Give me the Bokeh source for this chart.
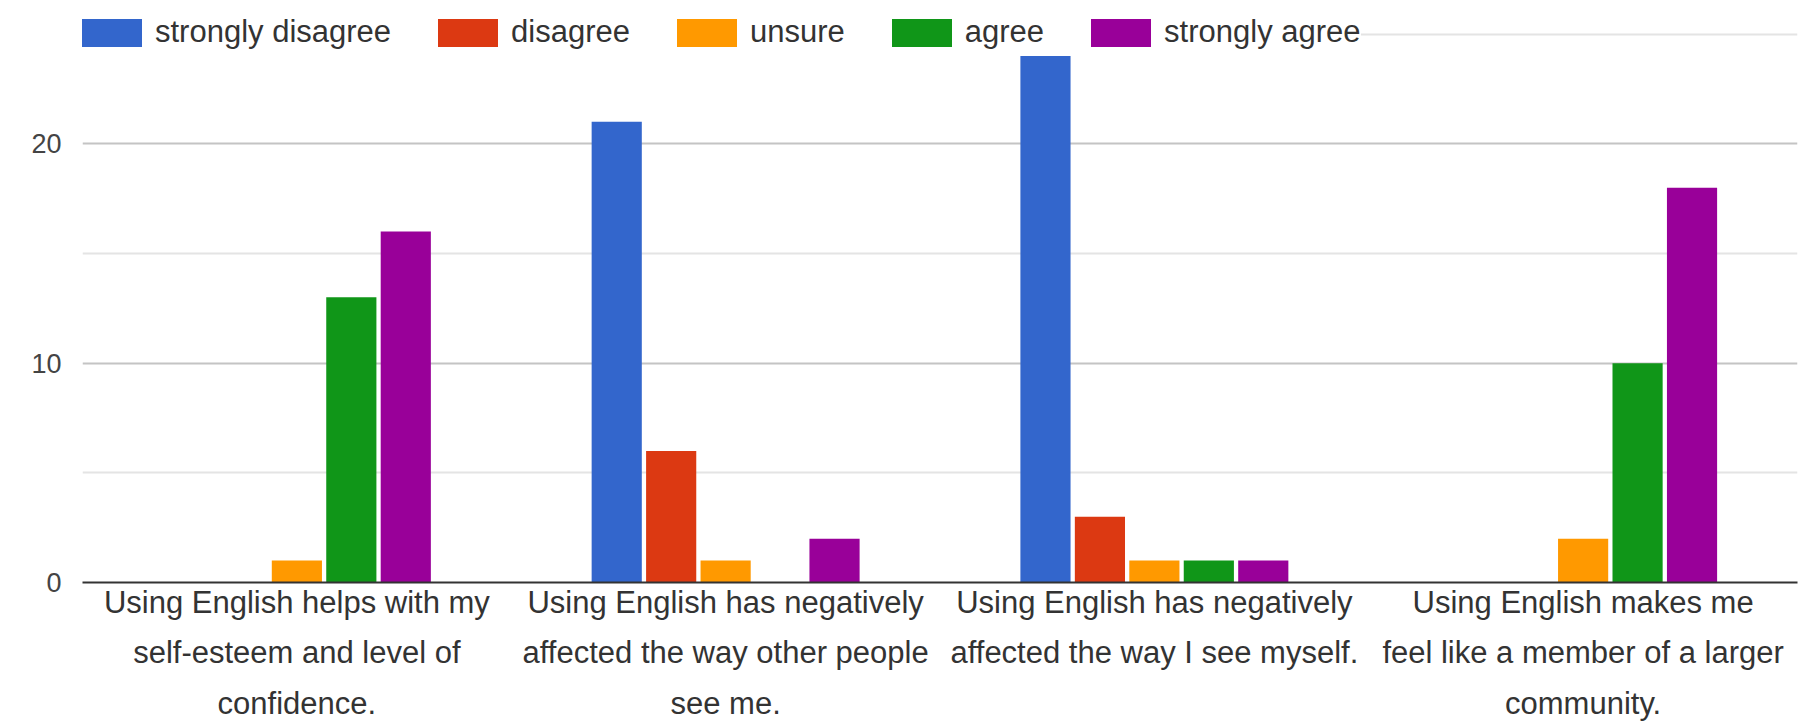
from bokeh.plotting import figure
from bokeh.models import FactorRange, Range1d, FixedTicker, ColumnDataSource
from bokeh.transform import dodge
from bokeh.embed import file_html
from bokeh.resources import INLINE

categories = [
    "Using English helps with my\nself-esteem and level of\nconfidence.",
    "Using English has negatively\naffected the way other people\nsee me.",
    "Using English has negatively\naffected the way I see myself.",
    "Using English makes me\nfeel like a member of a larger\ncommunity.",
]
series_names = ["strongly disagree", "disagree", "unsure", "agree", "strongly agree"]
strongly_disagree = [0, 21, 24, 0]
disagree = [0, 6, 3, 0]
unsure = [1, 1, 1, 2]
agree = [13, 0, 1, 10]
strongly_agree = [16, 2, 1, 18]
y_ticks = [0, 10, 20]
y_minor = [5, 15, 25]
colors = ["#3366cc", "#dc3912", "#ff9900", "#109618", "#990099"]

series_values = [strongly_disagree, disagree, unsure, agree, strongly_agree]
keys = ["s0", "s1", "s2", "s3", "s4"]
data = {"cat": categories}
for k, v in zip(keys, series_values):
    data[k] = v
source = ColumnDataSource(data)

FONT = "Liberation Sans"

p = figure(
    width=1801, height=726,
    x_range=FactorRange(factors=categories, range_padding=0),
    y_range=Range1d(0, 26.53),
    output_backend="svg", toolbar_location=None,
    min_border_left=82, min_border_right=4, min_border_top=0, min_border_bottom=144,
)
p.outline_line_color = None
p.background_fill_color = "white"
p.border_fill_color = "white"

pitch = 0.127
bw = 0.117
for i, (k, name, c) in enumerate(zip(keys, series_names, colors)):
    p.vbar(x=dodge("cat", (i - 2) * pitch, range=p.x_range), top=k, width=bw,
           source=source, fill_color=c, line_color=None, legend_label=name)

# axes
xa = p.xaxis[0]
xa.axis_line_color = "#333333"
xa.axis_line_width = 2
xa.major_tick_line_color = None
xa.minor_tick_line_color = None
xa.major_label_text_font = FONT
xa.major_label_text_font_size = "31px"
xa.major_label_text_color = "#333333"
xa.major_label_standoff = -4
xa.major_label_text_line_height = 1.45

ya = p.yaxis[0]
ya.ticker = FixedTicker(ticks=y_ticks, minor_ticks=y_minor)
ya.axis_line_color = None
ya.major_tick_line_color = None
ya.minor_tick_line_color = None
ya.major_label_text_font = FONT
ya.major_label_text_font_size = "27px"
ya.major_label_text_color = "#444444"
ya.major_label_standoff = 15

p.xgrid.grid_line_color = None
p.ygrid.ticker = FixedTicker(ticks=y_ticks, minor_ticks=y_minor)
p.ygrid.grid_line_color = "#c4c4c4"
p.ygrid.grid_line_width = 2
p.ygrid.minor_grid_line_color = "#e4e4e4"
p.ygrid.minor_grid_line_width = 2

lg = p.legend[0]
lg.orientation = "horizontal"
lg.location = (-8, 532)
lg.padding = 0
lg.margin = 0
lg.spacing = 39
lg.glyph_width = 75
lg.glyph_height = 35
lg.label_standoff = 6
lg.label_text_font = FONT
lg.label_text_font_size = "31px"
lg.label_text_color = "#333333"
lg.border_line_color = None
lg.background_fill_color = "white"
lg.background_fill_alpha = 1.0

open("out.html", "w").write(file_html(p, INLINE))
